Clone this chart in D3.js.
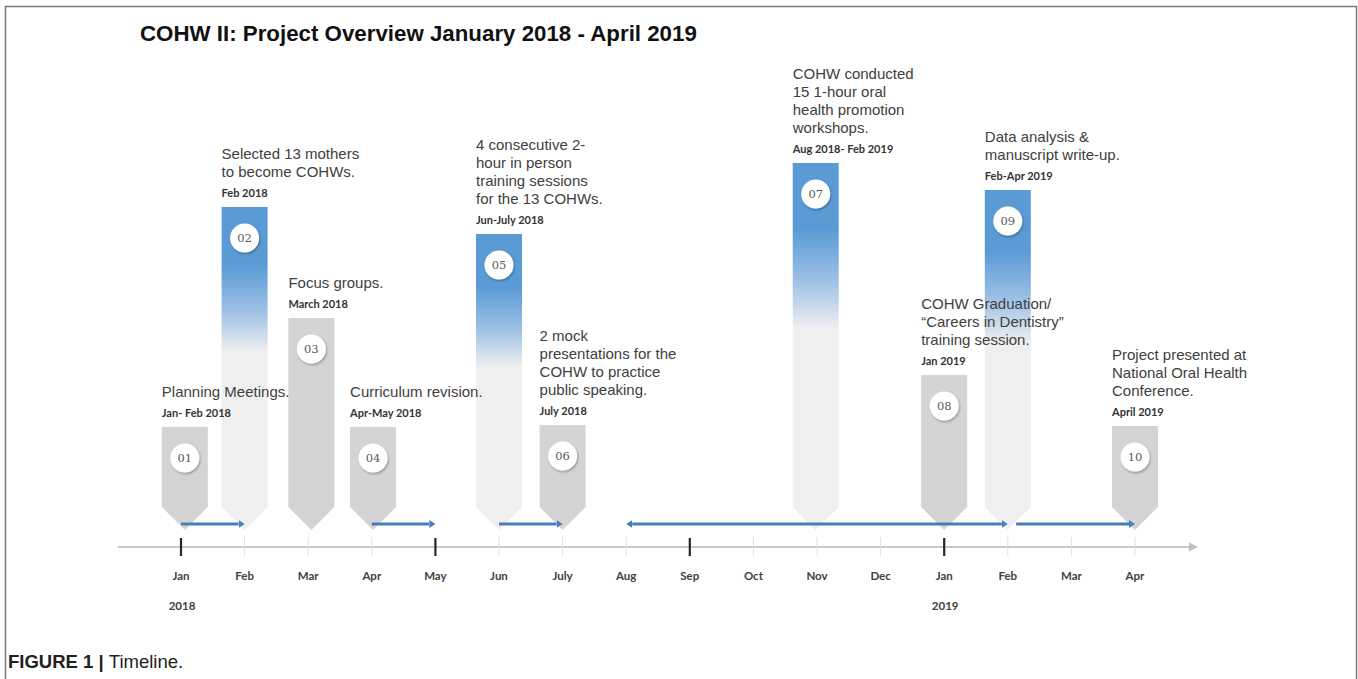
<!DOCTYPE html>
<html>
<head>
<meta charset="utf-8">
<script src="https://cdn.jsdelivr.net/npm/d3@7"></script>
<style>
  body { margin: 0; background: #fff; }
  svg { display: block; }
</style>
</head>
<body>
<script>
// months along the axis, Jan 2018 .. Apr 2019
const months = ["Jan", "Feb", "Mar", "Apr", "May", "Jun", "July", "Aug", "Sep", "Oct", "Nov", "Dec", "Jan", "Feb", "Mar", "Apr"];
const majorTicks = [0, 4, 8, 12];
const yearLabels = ["2018", "2019"];
const yearAt = [0, 12];

// the ten steps
const stepNumbers = ["01", "02", "03", "04", "05", "06", "07", "08", "09", "10"];
const stepMonth = [0.06, 1, 2.05, 3.02, 5, 6, 9.98, 12, 13, 15];
const stepLevel = [103, 323, 212, 103, 296, 105, 367, 155, 340, 104];
const stepBlue = [false, true, false, false, true, false, true, false, true, false];
const stepDates = ["Jan- Feb 2018", "Feb 2018", "March 2018", "Apr-May 2018", "Jun-July 2018",
  "July 2018", "Aug 2018- Feb 2019", "Jan 2019", "Feb-Apr 2019", "April 2019"];
const stepText = [
  ["Planning Meetings."],
  ["Selected 13 mothers", "to become COHWs."],
  ["Focus groups."],
  ["Curriculum revision."],
  ["4 consecutive 2-", "hour in person", "training sessions", "for the 13 COHWs."],
  ["2 mock", "presentations for the", "COHW to practice", "public speaking."],
  ["COHW conducted", "15 1-hour oral", "health promotion", "workshops."],
  ["COHW Graduation/", "\u201CCareers in Dentistry\u201D", "training session."],
  ["Data analysis &", "manuscript write-up."],
  ["Project presented at", "National Oral Health", "Conference."]
];

// duration arrows: start month, end month, heads
const spanStart = [0, 3, 5, 7, 13.13];
const spanEnd = [1, 4, 6, 13, 15];
const spanBoth = [false, false, false, true, false];

const W = 1358, H = 679;
const svg = d3.select("body").append("svg")
  .attr("width", W).attr("height", H);

const x = d3.scaleLinear().domain([0, 15]).range([181, 1135]);
const y = d3.scaleLinear().domain([0, 400]).range([530, 130]);
const axisY = 547;
const barW = 46, tipH = 23;

const defs = svg.append("defs");
const grad = defs.append("linearGradient").attr("id", "blueFade")
  .attr("x1", 0).attr("y1", 0).attr("x2", 0).attr("y2", 1);
grad.append("stop").attr("offset", "0%").attr("stop-color", "#5b9bd5");
grad.append("stop").attr("offset", "18%").attr("stop-color", "#5b9bd5");
grad.append("stop").attr("offset", "32%").attr("stop-color", "#9cc0e4");
grad.append("stop").attr("offset", "45%").attr("stop-color", "#efefef");
grad.append("stop").attr("offset", "100%").attr("stop-color", "#efefef");

const shadow = defs.append("filter").attr("id", "shadow")
  .attr("x", "-50%").attr("y", "-50%").attr("width", "200%").attr("height", "200%");
shadow.append("feDropShadow").attr("dx", 1).attr("dy", 1.5).attr("stdDeviation", 1.2)
  .attr("flood-color", "#000").attr("flood-opacity", 0.3);

defs.append("marker").attr("id", "headEnd")
  .attr("markerUnits", "userSpaceOnUse")
  .attr("viewBox", "0 0 6 8").attr("refX", 0).attr("refY", 4)
  .attr("markerWidth", 6).attr("markerHeight", 8).attr("orient", "auto")
  .append("path").attr("d", "M0,0L6,4L0,8Z").attr("fill", "#4a7ebb");
defs.append("marker").attr("id", "headStart")
  .attr("markerUnits", "userSpaceOnUse")
  .attr("viewBox", "0 0 6 8").attr("refX", 6).attr("refY", 4)
  .attr("markerWidth", 6).attr("markerHeight", 8).attr("orient", "auto")
  .append("path").attr("d", "M6,0L0,4L6,8Z").attr("fill", "#4a7ebb");

// frame
svg.append("path")
  .attr("d", "M5.5," + H + "V6.5H1356.5V" + H)
  .attr("fill", "none").attr("stroke", "#7a7a7a").attr("stroke-width", 1.5);

// title
svg.append("text")
  .attr("x", 140).attr("y", 41)
  .attr("font-family", "Liberation Sans, Arial, sans-serif")
  .attr("font-weight", "bold").attr("font-size", 22.3).attr("fill", "#111")
  .text("COHW II: Project Overview January 2018 - April 2019");

// axis line with arrow
svg.append("line")
  .attr("x1", 118).attr("x2", 1190).attr("y1", axisY).attr("y2", axisY)
  .attr("stroke", "#c8c8c8").attr("stroke-width", 2);
svg.append("path")
  .attr("d", "M1189," + (axisY - 4.5) + "L1198," + axisY + "L1189," + (axisY + 4.5) + "Z")
  .attr("fill", "#c0c0c0");

const monthIdx = d3.range(months.length);
svg.selectAll(".minor").data(monthIdx.filter(i => !majorTicks.includes(i)))
  .enter().append("line").attr("class", "minor")
  .attr("x1", d => x(d)).attr("x2", d => x(d))
  .attr("y1", axisY - 10).attr("y2", axisY + 9)
  .attr("stroke", "#e0e0e0").attr("stroke-width", 1);
svg.selectAll(".major").data(majorTicks)
  .enter().append("line").attr("class", "major")
  .attr("x1", d => x(d)).attr("x2", d => x(d))
  .attr("y1", axisY - 9).attr("y2", axisY + 9)
  .attr("stroke", "#262626").attr("stroke-width", 2.2);

svg.selectAll(".month").data(months)
  .enter().append("text").attr("class", "month")
  .attr("x", (d, i) => x(i)).attr("y", axisY + 33)
  .attr("text-anchor", "middle")
  .attr("font-family", "Lato, Open Sans, sans-serif").attr("font-weight", "bold")
  .attr("font-size", 11.5).attr("fill", "#404040")
  .text(d => d);
svg.selectAll(".year").data(yearLabels)
  .enter().append("text").attr("class", "year")
  .attr("x", (d, i) => x(yearAt[i]) + 1).attr("y", axisY + 63)
  .attr("text-anchor", "middle")
  .attr("font-family", "Lato, Open Sans, sans-serif").attr("font-weight", "bold")
  .attr("font-size", 11.5).attr("fill", "#404040")
  .text(d => d);

// bars
const steps = stepNumbers.map((n, i) => ({
  n: n, m: stepMonth[i], v: stepLevel[i], blue: stepBlue[i],
  date: stepDates[i], lines: stepText[i]
}));

function barPath(d) {
  const cx = x(d.m), l = cx - barW / 2, r = cx + barW / 2;
  const top = y(d.v), bot = y(0);
  return "M" + l + "," + top + "H" + r + "V" + (bot - tipH) +
    "L" + cx + "," + bot + "L" + l + "," + (bot - tipH) + "Z";
}

svg.selectAll(".bar").data(steps)
  .enter().append("path").attr("class", "bar")
  .attr("d", barPath)
  .attr("fill", d => d.blue ? "url(#blueFade)" : "#d4d4d4");

svg.selectAll(".badge").data(steps)
  .enter().append("circle").attr("class", "badge")
  .attr("cx", d => x(d.m)).attr("cy", d => y(d.v) + 31).attr("r", 14.5)
  .attr("fill", "#fff").attr("filter", "url(#shadow)");
svg.selectAll(".badgeNum").data(steps)
  .enter().append("text").attr("class", "badgeNum")
  .attr("x", d => x(d.m)).attr("y", d => y(d.v) + 35)
  .attr("text-anchor", "middle")
  .attr("font-family", "DejaVu Serif, Liberation Serif, serif")
  .attr("font-size", 11.5).attr("fill", "#595959")
  .text(d => d.n);

// duration arrows
const spans = spanStart.map((s, i) => ({ s: s, e: spanEnd[i], both: spanBoth[i] }));
svg.selectAll(".span").data(spans)
  .enter().append("line").attr("class", "span")
  .attr("x1", d => x(d.s) + (d.both ? 6 : 0)).attr("x2", d => x(d.e) - 6)
  .attr("y1", 524).attr("y2", 524)
  .attr("stroke", "#4a7ebb").attr("stroke-width", 3)
  .attr("marker-end", "url(#headEnd)")
  .attr("marker-start", d => d.both ? "url(#headStart)" : null);

// labels
const lab = svg.selectAll(".label").data(steps)
  .enter().append("g").attr("class", "label")
  .attr("transform", d => "translate(" + (x(d.m) - barW / 2) + "," + y(d.v) + ")");
lab.append("text")
  .attr("y", -10)
  .attr("font-family", "Lato, Open Sans, sans-serif").attr("font-weight", "bold")
  .attr("font-size", 11).attr("fill", "#333")
  .text(d => d.date);
lab.each(function (d) {
  const g = d3.select(this);
  const n = d.lines.length;
  g.selectAll(".desc").data(d.lines)
    .enter().append("text").attr("class", "desc")
    .attr("y", (t, j) => -30 - (n - 1 - j) * 18)
    .attr("font-family", "Liberation Sans, Arial, sans-serif")
    .attr("font-size", 15).attr("fill", "#404040")
    .text(t => t);
});

// caption
const cap = svg.append("text")
  .attr("x", 8).attr("y", 668)
  .attr("font-family", "Liberation Sans, Arial, sans-serif")
  .attr("font-size", 18.5).attr("fill", "#231f20");
cap.append("tspan").attr("font-weight", "bold").text("FIGURE 1 | ");
cap.append("tspan").text("Timeline.");
</script>
</body>
</html>
